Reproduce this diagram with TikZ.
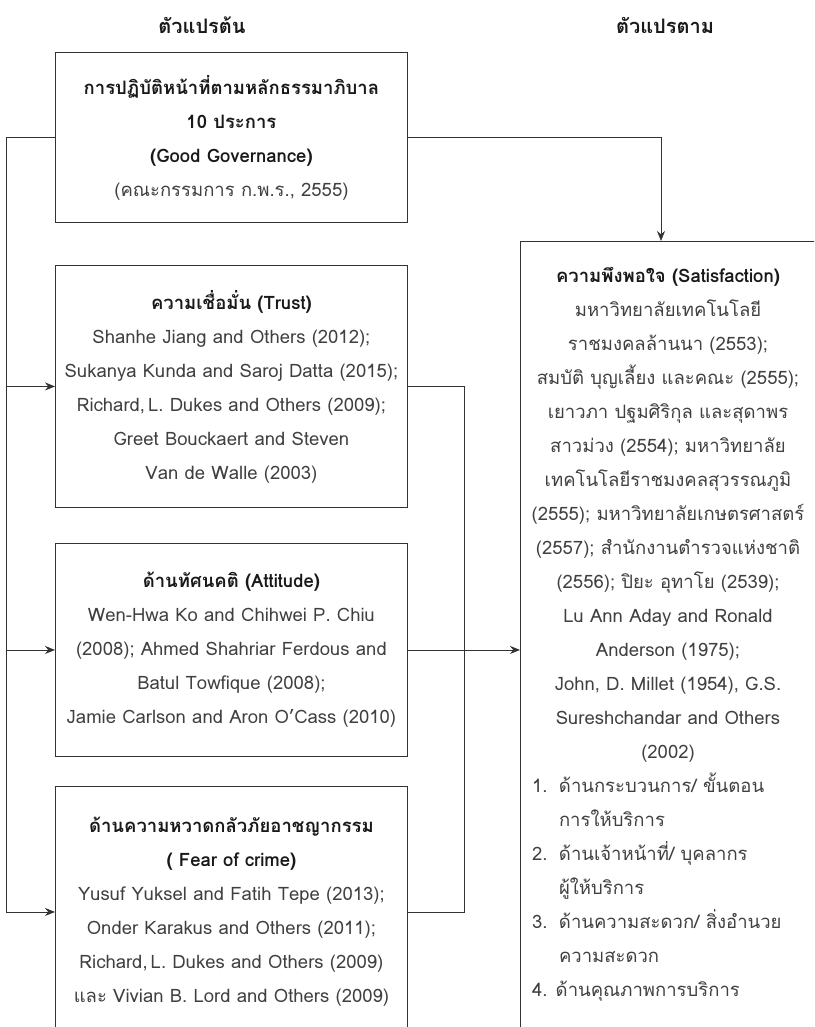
\documentclass[tikz,border=0pt]{standalone}
\usepackage{fontspec}
\setmainfont[Script=Thai]{Loma}
\usetikzlibrary{arrows.meta}
\newcommand{\hdr}[1]{{\color{black!90}\bfseries #1}}
\newcommand{\satline}[1]{\makebox[272pt]{#1}}
\newcommand{\satitem}[1]{\makebox[27pt][l]{#1}}
\begin{document}
\begin{tikzpicture}[>={Stealth[length=10pt,width=8pt]}, x=1pt, y=-1pt,
    font=\fontsize{18.5}{34}\selectfont,
    box/.style={draw=black!80, line width=0.9pt, anchor=north west, minimum width=352pt, align=center, inner sep=0pt, text=black!75},
    conn/.style={draw=black!80, line width=0.9pt},
    head/.style={font=\fontsize{20}{34}\selectfont\bfseries, text=black!90}]
\useasboundingbox (0,0) rectangle (814,1027);
\clip (0,0) rectangle (814,1027);
\node[head] (iv) at (202,25) {ตัวแปรต้น};
\node[head] (dv) at (665,25) {ตัวแปรตาม};
\node[box, minimum height=170pt] (gg) at (55,52) {\hdr{การปฏิบัติหน้าที่ตามหลักธรรมาภิบาล}\\ \hdr{10 ประการ}\\ \hdr{(Good Governance)}\\ (คณะกรรมการ ก.พ.ร., 2555)};
\node[box, minimum height=242pt] (trust) at (55,265) {\hdr{ความเชื่อมั่น (Trust)}\\ Shanhe Jiang and Others (2012);\\ Sukanya Kunda and Saroj Datta (2015);\\ Richard,\,L. Dukes and Others (2009);\\ Greet Bouckaert and Steven\\ Van de Walle (2003)};
\node[box, minimum height=213pt] (att) at (55,543) {\hdr{ด้านทัศนคติ (Attitude)}\\ Wen-Hwa Ko and Chihwei P. Chiu\\ (2008); Ahmed Shahriar Ferdous and\\ Batul Towfique (2008);\\ Jamie Carlson and Aron O’Cass (2010)};
\node[box, minimum height=251pt] (fear) at (55,786) {\hdr{ด้านความหวาดกลัวภัยอาชญากรรม}\\ \hdr{( Fear of crime)}\\ Yusuf Yuksel and Fatih Tepe (2013);\\ Onder Karakus and Others (2011);\\ Richard,\,L. Dukes and Others (2009)\\ และ Vivian B. Lord and Others (2009)};
\node[box, minimum width=320pt, minimum height=810pt] (sat) at (520,241) {};
\node[align=left, text=black!75] (sattext) at (668,634.7) {\satline{\hdr{ความพึงพอใจ (Satisfaction)}}\\
    \satline{มหาวิทยาลัยเทคโนโลยี}\\
    \satline{ราชมงคลล้านนา (2553);}\\
    \satline{สมบัติ บุญเลี้ยง และคณะ (2555);}\\
    \satline{เยาวภา ปฐมศิริกุล และสุดาพร}\\
    \satline{สาวม่วง (2554); มหาวิทยาลัย}\\
    \satline{เทคโนโลยีราชมงคลสุวรรณภูมิ}\\
    \satline{(2555); มหาวิทยาลัยเกษตรศาสตร์}\\
    \satline{(2557); สำนักงานตำรวจแห่งชาติ}\\
    \satline{(2556); ปิยะ อุทาโย (2539);}\\
    \satline{Lu Ann Aday and Ronald}\\
    \satline{Anderson (1975);}\\
    \satline{John, D. Millet (1954), G.S.}\\
    \satline{Sureshchandar and Others}\\
    \satline{(2002)}\\
    \satitem{1.}ด้านกระบวนการ/ ขั้นตอน\\
    \hspace*{27pt}การให้บริการ\\
    \satitem{2.}ด้านเจ้าหน้าที่/ บุคลากร\\
    \hspace*{27pt}ผู้ให้บริการ\\
    \satitem{3.}ด้านความสะดวก/ สิ่งอำนวย\\
    \hspace*{27pt}ความสะดวก\\
    4. ด้านคุณภาพการบริการ};
\coordinate (lft) at (6,0);
\coordinate (rgt) at (464.5,0);
\coordinate (satin) at ([xshift=141pt]sat.north west);
\draw[conn,->] (gg.west) -- (gg.west -| lft) |- (fear.west);
\draw[conn,->] (trust.west -| lft) -- (trust.west);
\draw[conn,->] (att.west -| lft) -- (att.west);
\draw[conn] (trust.east) -- (trust.east -| rgt) |- (fear.east);
\draw[conn,->] (att.east) -- (att.east -| sat.west);
\draw[conn,->] (gg.east) -| (satin);
\end{tikzpicture}
\end{document}
